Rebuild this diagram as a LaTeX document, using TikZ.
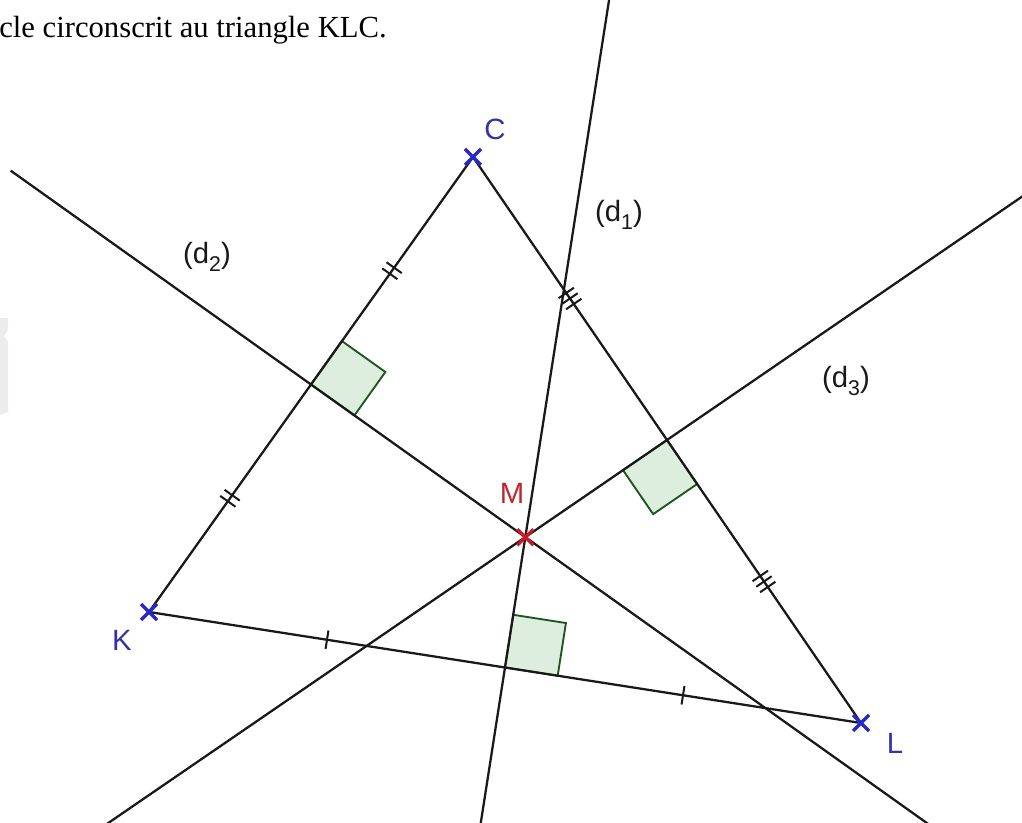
\documentclass[tikz,border=0pt]{standalone}
\usepackage{fontspec}
\setmainfont{Liberation Serif}
\newfontfamily\lblfont{Liberation Sans}
\usetikzlibrary{calc}
\definecolor{ptblue}{RGB}{40,40,200}
\definecolor{lblblue}{RGB}{50,50,170}
\definecolor{ptred}{RGB}{205,25,35}
\definecolor{lblred}{RGB}{190,40,45}
\definecolor{sqfill}{RGB}{222,238,222}
\definecolor{sqdraw}{RGB}{30,85,30}
\definecolor{ink}{RGB}{25,25,25}
\newcommand\lowsub[1]{\raisebox{-0.5ex}{\fontsize{16}{16}\selectfont #1}}
\newcommand\mytick[3]{%
  \coordinate (tq) at ($(#1)!#3!(#2)$);
  \draw[tickline] ($(tq)!7pt!90:(#2)$) -- ($(tq)!7pt!-90:(#2)$);}
\newcommand\mycross[2]{%
  \draw[#2, line width=2.4pt] ($(#1)+(-8,-8)$) -- ($(#1)+(8,8)$)
        ($(#1)+(-8,8)$) -- ($(#1)+(8,-8)$);}
\begin{document}
\begin{tikzpicture}[x=0.75pt,y=-0.75pt,
  lineseg/.style={ink, line width=1.7pt},
  tickline/.style={ink, line width=1.5pt},
  sq/.style={draw=sqdraw, fill=sqfill, line width=1.4pt},
  lbl/.style={font=\lblfont\fontsize{22}{24}\selectfont, inner sep=0pt}]
\useasboundingbox (0,0) rectangle (1022,823);
\clip (0,0) rectangle (1022,823);
\fill[white] (0,0) rectangle (1022,823);

% faint watermark on the left edge
\fill[gray!15] (0,318) -- (8,318) -- (8,330) -- (4,336) -- (8,342) -- (8,412) -- (0,415) -- cycle;

% top text
\node[anchor=base west, inner sep=0pt, font=\fontsize{23}{26}\selectfont] (txt) at (-1,38) {cle circonscrit au triangle KLC.};

% points
\coordinate (C) at (473,157);
\coordinate (K) at (149,612);
\coordinate (L) at (861,723);
\coordinate (mKL) at ($(K)!0.5!(L)$);
\coordinate (mKC) at ($(K)!0.5!(C)$);
\coordinate (mCL) at ($(C)!0.5!(L)$);

% bisector ends
\coordinate (d1a) at ($(mKL)!4!90:(L)$);
\coordinate (d1b) at ($(mKL)!4!-90:(L)$);
\coordinate (d2a) at ($(mKC)!1.32!90:(C)$);
\coordinate (d2b) at ($(mKC)!5!-90:(C)$);
\coordinate (d3a) at ($(mCL)!4!90:(L)$);
\coordinate (d3b) at ($(mCL)!4!-90:(L)$);
\coordinate (M) at (intersection of mKL--d1a and mKC--d2b);

% right-angle squares
\coordinate (s1a) at ($(mKL)!40pt!(L)$);
\coordinate (s1b) at ($(mKL)!40pt!(M)$);
\draw[sq] (mKL) -- (s1a) -- ($(s1a)+(s1b)-(mKL)$) -- (s1b) -- cycle;
\coordinate (s2a) at ($(mKC)!40pt!(C)$);
\coordinate (s2b) at ($(mKC)!40pt!(M)$);
\draw[sq] (mKC) -- (s2a) -- ($(s2a)+(s2b)-(mKC)$) -- (s2b) -- cycle;
\coordinate (s3a) at ($(mCL)!40pt!(L)$);
\coordinate (s3b) at ($(mCL)!40pt!(M)$);
\draw[sq] (mCL) -- (s3a) -- ($(s3a)+(s3b)-(mCL)$) -- (s3b) -- cycle;

% lines
\draw[lineseg] (d1a) -- (d1b);
\draw[lineseg] (d2a) -- (d2b);
\draw[lineseg] (d3a) -- (d3b);
\draw[lineseg] (K) -- (C) -- (L) -- cycle;

% ticks
\coordinate (qKC1) at ($(K)!0.25!(C)$);
\coordinate (qKC2) at ($(K)!0.75!(C)$);
\mytick{qKC1}{C}{-2.8pt}\mytick{qKC1}{C}{2.8pt}
\mytick{qKC2}{C}{-2.8pt}\mytick{qKC2}{C}{2.8pt}
\coordinate (qCL1) at ($(C)!0.25!(L)$);
\coordinate (qCL2) at ($(C)!0.75!(L)$);
\mytick{qCL1}{L}{-5pt}\mytick{qCL1}{L}{0pt}\mytick{qCL1}{L}{5pt}
\mytick{qCL2}{L}{-5pt}\mytick{qCL2}{L}{0pt}\mytick{qCL2}{L}{5pt}
\coordinate (qKL1) at ($(K)!0.25!(L)$);
\coordinate (qKL2) at ($(K)!0.75!(L)$);
\mytick{qKL1}{L}{0pt}
\mytick{qKL2}{L}{0pt}

% crosses
\mycross{C}{ptblue}
\mycross{K}{ptblue}
\mycross{L}{ptblue}
\mycross{M}{ptred}

% labels
\node[lbl, text=lblblue] (lC) at (495,129) {C};
\node[lbl, text=lblblue] (lK) at (122,640) {K};
\node[lbl, text=lblblue] (lL) at (895,743) {L};
\node[lbl, text=lblred] (lM) at (512,493) {M};
\node[lbl, text=ink] (ld1) at (619,215) {(d\lowsub{1})};
\node[lbl, text=ink] (ld2) at (207,257) {(d\lowsub{2})};
\node[lbl, text=ink] (ld3) at (846,381) {(d\lowsub{3})};
\end{tikzpicture}
\end{document}
